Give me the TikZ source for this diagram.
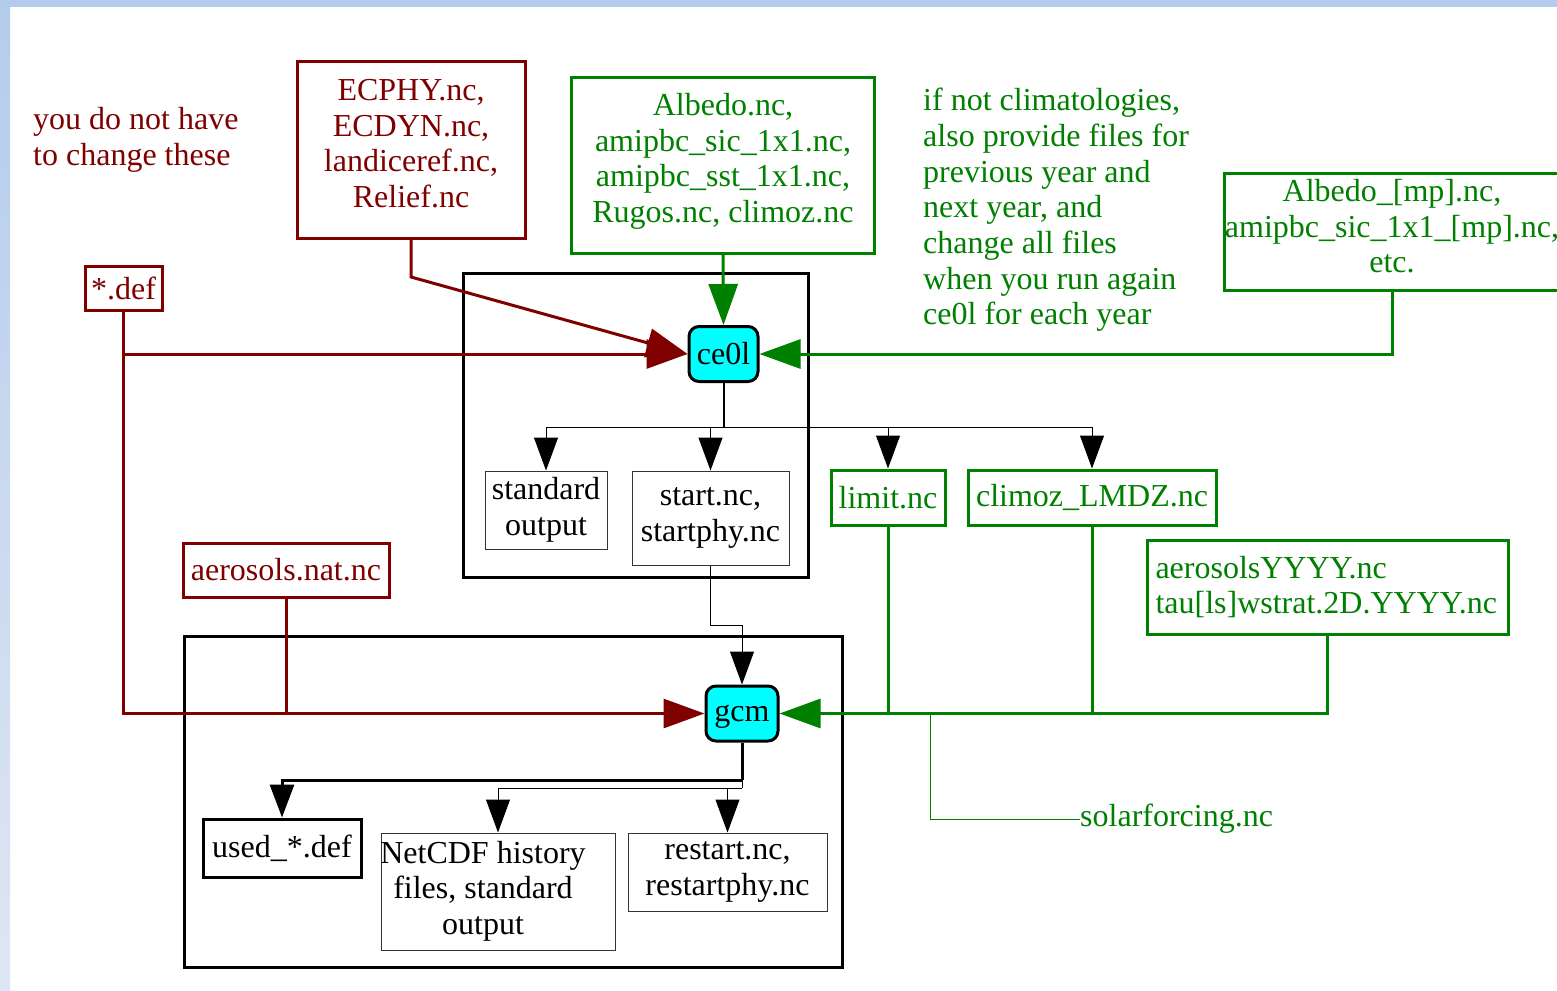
\documentclass[tikz,border=0pt]{standalone}
\usepackage{fontspec}
\setmainfont{Liberation Serif}
\usetikzlibrary{arrows.meta}
\definecolor{dred}{HTML}{800000}
\definecolor{dgreen}{HTML}{008000}
\definecolor{aqua}{HTML}{00FFFF}
\definecolor{bandtop}{HTML}{B4CCEC}
\definecolor{bandbot}{HTML}{DFE6F3}
\definecolor{thingray}{HTML}{333333}
\begin{document}
\begin{tikzpicture}[x=1pt,y=-1pt,
  txt/.style={font=\fontsize{32}{35.7}\selectfont, inner sep=0pt, align=center},
  redbox/.style={txt, draw=dred, text=dred, line width=3pt},
  greenbox/.style={txt, draw=dgreen, text=dgreen, line width=3pt},
  thinbox/.style={txt, draw=thingray, line width=1pt},
  blackbox/.style={txt, draw=black, line width=3pt},
  proc/.style={txt, draw=black, fill=aqua, line width=3pt, rounded corners=10pt},
  groupbox/.style={draw=black, line width=3pt, inner sep=0pt},
  redline/.style={draw=dred, line width=3pt},
  greenline/.style={draw=dgreen, line width=3pt},
  redarrow/.style={redline, -{Triangle[length=41pt,width=29pt]}},
  greenarrow/.style={greenline, -{Triangle[length=41pt,width=29pt]}},
  thinline/.style={draw=black, line width=1pt},
  thinarrow/.style={thinline, -{Triangle[length=33pt,width=24pt]}},
  thickarrow/.style={draw=black, line width=3pt, -{Triangle[length=33pt,width=24pt]}}
]
\useasboundingbox (0,0) rectangle (1557,990);
\fill[white] (0,0) rectangle (1557,990);
\shade[top color=bandtop, bottom color=bandbot] (0,0) rectangle (10,990);
\fill[bandtop] (0,0) rectangle (1557,7);

% groups
\node[groupbox, minimum width=345pt, minimum height=304pt] (g1) at (635.5,425) {};
\node[groupbox, minimum width=658pt, minimum height=331pt] (g2) at (513,801.5) {};

% free texts
\node[txt, align=left, text=dred, anchor=west] (note1) at (33,140) {you do not have\\to change these};
\node[txt, align=left, text=dgreen, anchor=west] (note2) at (923,210) {if not climatologies,\\also provide files for\\previous year and\\next year, and\\change all files\\when you run again\\ce0l for each year};

% input boxes
\node[redbox, text depth=13pt, minimum width=228pt, minimum height=176pt] (ecphy) at (411,150) {ECPHY.nc,\\ECDYN.nc,\\landiceref.nc,\\Relief.nc};
\node[redbox, minimum width=77pt, minimum height=44pt] (def) at (123.5,288) {*.def};
\node[greenbox, text depth=14pt, minimum width=303pt, minimum height=176pt] (albedo) at (723,165) {Albedo.nc,\\amipbc\_sic\_1x1.nc,\\amipbc\_sst\_1x1.nc,\\Rugos.nc, climoz.nc};
\node[greenbox, text depth=11pt, minimum width=336pt, minimum height=117pt] (albmp) at (1392,231.5) {Albedo\_[mp].nc,\\amipbc\_sic\_1x1\_[mp].nc,\\etc.};
\node[redbox, minimum width=206pt, minimum height=54pt] (aeronat) at (286,570) {aerosols.nat.nc};

% processes
\node[proc, minimum width=69pt, minimum height=55pt] (ce0l) at (723.5,354) {ce0l};
\node[proc, text height=22pt, minimum width=72pt, minimum height=55pt] (gcm) at (742,713.5) {gcm};

% ce0l outputs
\node[thinbox, minimum width=122pt, minimum height=78pt] (stdout) at (546,510) {standard\\output};
\node[thinbox, minimum width=157pt, minimum height=94pt] (start) at (710.5,518) {start.nc,\\startphy.nc};
\node[greenbox, minimum width=114pt, minimum height=55pt] (limit) at (888,497.5) {limit.nc};
\node[greenbox, minimum width=248pt, minimum height=55pt] (climoz) at (1092,497.5) {climoz\_LMDZ.nc};
\node[greenbox, align=left, text width=344pt, minimum width=361pt, minimum height=94pt] (aeroy) at (1327.5,587) {aerosolsYYYY.nc\\tau[ls]wstrat.2D.YYYY.nc};

% gcm outputs
\node[blackbox, minimum width=158pt, minimum height=58pt] (used) at (282,848) {used\_*.def};
\node[thinbox, minimum width=234pt, minimum height=117pt] (netcdf) at (498,891.5) {};
\node[txt] (netcdftext) at (483,891) {NetCDF history\\files, standard\\output};
\node[thinbox, minimum width=199pt, minimum height=78pt] (restart) at (727.5,872) {restart.nc,\\restartphy.nc};

\node[txt, text=dgreen, anchor=west] (solar) at (1080,819) {solarforcing.nc};

% coordinates
\coordinate (ebend) at (411,277);
\coordinate (c0) at (723.5,427);
\coordinate (s1) at (710.5,625);
\coordinate (g0) at (742,780);
\coordinate (g1j) at (742,788);
\coordinate (sj) at (930,713.5);

% red connectors
\draw[redarrow] (ecphy.south) -- (ebend) -- (ce0l.west);
\draw[redarrow] (def.south) |- (ce0l.west);
\draw[redarrow] (def.south) |- (gcm.west);
\draw[redline] (aeronat.south) -- (aeronat.south |- gcm.west);

% green connectors
\draw[greenarrow] (albedo.south) -- (ce0l.north);
\draw[greenarrow] (albmp.south) |- (ce0l.east);
\draw[greenarrow] (aeroy.south) |- (gcm.east);
\draw[greenline] (limit.south) -- (limit.south |- gcm.east);
\draw[greenline] (climoz.south) -- (climoz.south |- gcm.east);
\draw[draw=dgreen, line width=1pt] (sj) |- (solar.west);

% black connectors from ce0l
\draw[draw=black, line width=2pt] (ce0l.south) -- (c0);
\draw[thinarrow] (c0) -| (stdout.north);
\draw[thinarrow] (c0) -| (start.north);
\draw[thinarrow] (c0) -| (limit.north);
\draw[thinarrow] (c0) -| (climoz.north);
\draw[thinarrow] (start.south) -- (s1) -| (gcm.north);

% black connectors from gcm
\draw[draw=black, line width=3pt] (gcm.south) -- (g0);
\draw[thickarrow] (g0) -| (used.north);
\draw[thinline] (g0) -- (g1j);
\draw[thinarrow] (g1j) -| (netcdf.north);
\draw[thinarrow] (g1j) -| (restart.north);
\end{tikzpicture}
\end{document}
